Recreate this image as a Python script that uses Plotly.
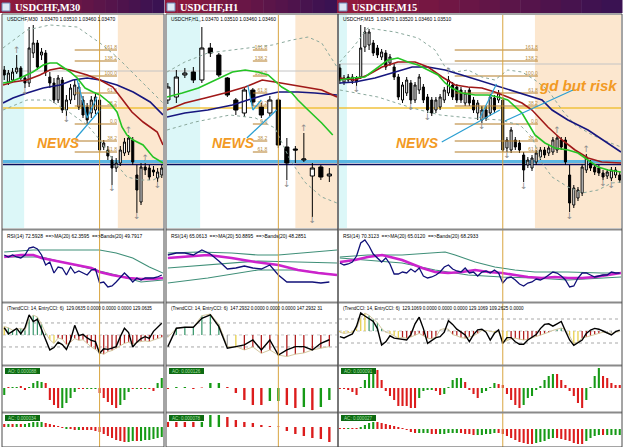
import plotly.graph_objects as go

W, H = 625, 447
REF, PIP = 1.0520, 0.0001   # main-window prices are stored as pips below REF
PT = 0.00001                # oscillator histogram values are stored in points

# ------------------------------------------------------------------ texts
TITLES = ["USDCHF,M30", "USDCHF,H1", "USDCHF,M15"]
INFO = ["USDCHF,M30  1.03470 1.03510 1.03460 1.03470",
        "USDCHF,H1,,1.03470 1.03510 1.03460 1.03460",
        "USDCHF,M15  1.03470 1.03520 1.03460 1.03510"]
RSI_TXT = ["RSI(14) 72.5928  ==>MA(20) 62.3595  ==>Bands(20) 49.7917",
           "RSI(14) 65.0613  ==>MA(20) 50.8895  ==>Bands(20) 48.2851",
           "RSI(14) 70.3123  ==>MA(20) 65.0120  ==>Bands(20) 68.2933"]
CCI_TXT = ["(TrendCCI: 14, EntryCCI: 6)  129.0635 0.0000 0.0000 0.0000 129.0635",
           "(TrendCCI: 14, EntryCCI: 6)  147.2932 0.0000 0.0000 0.0000 147.2932 31",
           "(TrendCCI: 14, EntryCCI: 6)  129.1069 0.0000 0.0000 0.0000 129.1069 109.2625 0.0000"]
AO_TXT = ["AO: 0.000088", "AO: 0.000126", "AO: 0.000091"]
AC_TXT = ["AC: 0.000034", "AC: 0.000078", "AC: 0.000027"]
FIB_LABELS = ["161.8", "138.2", "100.0", "61.8", "38.2", "0.0", "38.2", "61.8"]
FIB_PIPS = [50, 61, 76, 93, 106, 124, 141, 152]
LEVEL_GOLD = 108
LEVEL_GRAY = [71, 71, 64]
LEVEL_BLUE = 161.5
LEVEL_NAVY = 164.5

# ------------------------------------------------------------------ M30
M30_OPEN = [70,82,80,72,68,78,83,53,43,55,53,77,83,100,80,110,100,95,107,100,107,113,110,100,147,150,160,168,163,153,152,140,175,202,167,168,170,178,175]
M30_HIGH = [66,70,68,55,66,76,27,25,40,48,50,72,78,75,77,95,84,80,83,96,103,96,93,97,140,146,156,158,146,138,135,137,165,163,163,165,166,168,165]
M30_LOW = [80,85,82,74,80,88,87,58,70,60,76,88,103,103,113,116,104,100,110,118,124,118,114,152,150,160,185,172,166,156,155,165,213,205,175,180,176,182,178]
M30_CLOSE = [75,73,72,68,78,83,48,43,67,52,72,83,100,78,110,100,88,85,87,115,120,100,97,150,143,156,168,163,150,142,138,162,190,167,170,177,172,172,168]
M30_MA_GREEN_X = [-0.3,1.4,3.8,6.9,9.4,11,12.7,14.2,15.9,17.6,19.5,21.4,23.1,25.5,27.2,28.4,29.6,31.1,33.5,35.9,38.3]
M30_MA_GREEN = [83,82,78,72,65,63,63,67,72,78,88,92,95,103,112,127,135,140,145,157,163]
M30_MA_RED_X = [-0.3,2.1,5.5,8.6,11,13.5,15.9,20,23.1,26.2,28.6,30.8,33.5,36.9,38.3]
M30_MA_RED = [85,82,80,75,70,68,70,75,80,87,100,112,122,132,145]
M30_MA_NAVY_X = [-0.3,2.1,5.5,9.4,13.5,16.6,20,23.1,27.2,31.1,35.2,38.3]
M30_MA_NAVY = [103,98,93,88,85,80,78,80,85,92,102,115]
M30_BB_UP_X = [-0.3,5.5,11,17.6,23.1,27.2,29.6,32.8,35.9,38.3]
M30_BB_UP = [48,30,25,27,43,57,67,80,93,103]
M30_BB_LO_X = [-0.3,5.5,11,15.9,20,23.1,26.2,29.6,32.8,35.9,38.3]
M30_BB_LO = [110,100,100,113,125,140,160,177,180,180,175]
M30_FR_UP_X = [3, 30, 34]
M30_FR_UP = [51, 131, 159]
M30_FR_DN_X = [5, 15, 26, 32, 37]
M30_FR_DN = [92, 120, 189, 217, 186]
M30_ZIGZAG_X = [17.6, 20.0, 22.4]
M30_ZIGZAG = [80, 118, 97]
M30_POINTER_X = [17.3, 23.1]
M30_POINTER = [138, 110]
M30_RSI = [67,65,67,65,64,67,74,75,73,67,57,60,49,55,54,47,55,49,51,49,47,52,53,39,40,35,36,40,44,49,45,40,44,42,44,44,44,45,47]
M30_RSI_MA_X = [0,4,7,9,15,21,23,26,30,33,36,38.3]
M30_RSI_MA = [65,67,67,64,59,54,50,47,44,43,43,44]
M30_RSI_UP_X = [0,7,15,23,27,31,35,38.3]
M30_RSI_UP = [70,72,72,72,69,64,55,49]
M30_RSI_LO_X = [0,9,19,27,33,38.3]
M30_RSI_LO = [65,65,55,47,40,42]
M30_CCI_ENTRY = [60,10,30,55,10,60,167,111,130,40,-42,-125,-105,-60,-80,-120,-42,80,-5,5,-25,-45,-56,-153,-115,-120,-110,-97,-14,56,20,-100,-60,-30,-14,-28,30,60,97]
M30_CCI_TREND = [70,60,40,50,55,40,130,165,150,90,15,-40,-70,-25,-35,-80,-60,-30,-45,-40,-70,-100,-120,-150,-160,-140,-130,-110,-90,-70,-60,-80,-60,-55,-50,-55,-40,-30,-20]
M30_CCI_COL = "YGGGGGGGGGGYYRRRRRRRRRRRRRRRRRRRRRRRRRR"
M30_AO = [-7,1,1,1,2,-2,1,5,7,6,5,-12,-17,-20,-20,-15,-10,-4,-1,-1,-1,-1,-1,-5,-10,-14,-17,-20,-17,-12,-4,-1,-1,-1,-1,-1,-3,5,10]
M30_AO_COL = "GRGGRRGGGGRRRRGGGGRRGGGRRRRRGGGRGRGRRGG"
M30_AC = [3,3,3,3,3,3,4,5,5,5,4,3,2,1,-1,-2,-2,-3,-3,-3,-3,-3,-4,-5,-7,-9,-11,-13,-14,-15,-15,-14,-14,-14,-13,-13,-12,-11,-10]
M30_AC_COL = "RGRGRGGGGGRRRRRGRRGRRRRRRRRRRRGGRGGGGGG"

# ------------------------------------------------------------------ H1
H1_OPEN = [100,97,75,72,80,48,55,78,100,113,90,107,113,100,147,149,160,176,167,176]
H1_HIGH = [83,70,68,67,27,43,53,77,98,88,88,103,96,98,138,146,133,163,165,168]
H1_LOW = [104,103,78,83,83,57,77,97,115,117,106,118,116,148,180,163,162,217,180,182]
H1_CLOSE = [87,77,73,80,48,53,75,95,110,90,102,115,100,145,163,150,159,168,177,174]
H1_MA_GREEN_X = [-0.1,1.7,3.6,5.6,7.6,9.1,10.6,11.8,13.4,14.6,15.3,16.5,18.1,19.4]
H1_MA_GREEN = [97,93,88,80,72,70,72,75,87,93,100,110,123,135]
H1_MA_RED_X = [-0.1,2.0,4.4,6.7,9.1,11.1,12.6,14.6,16.5,18.1,19.9]
H1_MA_RED = [110,103,98,93,87,80,82,85,88,90,97]
H1_MA_NAVY_X = [-0.1,2.0,4.7,7.6,9.4,11.4,13.0,15.3,17.3,19.9]
H1_MA_NAVY = [117,113,110,105,100,95,92,92,93,95]
H1_BB_UP_X = [-0.1,2.0,4.7,7.6,9.9,12.3,14.6,16.5,18.1,19.9]
H1_BB_UP = [72,62,53,50,47,45,40,37,43,67]
H1_BB_LO_X = [-0.1,3.2,7.3,10.3,12.6,14.4,16.1,18.1,19.9]
H1_BB_LO = [130,122,115,118,128,160,182,197,203]
H1_FR_UP_X = [16]
H1_FR_UP = [129]
H1_FR_DN_X = [14, 17]
H1_FR_DN = [185, 221]
H1_ZIGZAG_X = [9.4, 10.0, 11.0]
H1_ZIGZAG = [85, 110, 100]
H1_POINTER_X = [9.3, 12.8]
H1_POINTER = [138, 110]
H1_RSI = [67,69,69,67,72,68,61,53,54,56,54,53,57,47,40,40,40,40,39,40]
H1_RSI_MA_X = [0,2,4.7,7.5,10.3,13,15.3,17.7,19.9]
H1_RSI_MA = [64,65,67,64,60,57,52,49,47]
H1_RSI_UP_X = [0,3.6,7.5,10.6,13,16.1,19.9]
H1_RSI_UP = [69,70,69,67,67,69,72]
H1_RSI_MID_X = [0,4.7,10.6,15.3,19.9]
H1_RSI_MID = [54,57,61,60,59]
H1_RSI_LO_X = [0,4.7,10.6,15.3,19.9]
H1_RSI_LO = [39,44,52,52,47]
H1_CCI_ENTRY = [-97,56,64,64,139,167,69,-111,-97,-83,-42,-125,-42,-167,-125,-97,-97,-125,-69,-40]
H1_CCI_TREND = [-20,56,64,64,160,175,90,-97,-97,-125,-100,-153,-125,-167,-180,-160,-150,-125,-110,-97]
H1_CCI_COL = "NGGGGGGNYRRRRRRRRRRR"
H1_AO = [-1,1,1,-1,0.5,5,5,1,-5,-12,-17,-17,-13,-13,-17,-20,-19,-22,-19,-12]
H1_AO_COL = "RGGRRGGRRRRRGGRRGRGG"
H1_AC = [5,5,5,5,5,12,12,10,7,5,4,2,1,0.5,-4,-7,-9,-11,-12,-15]
H1_AC_COL = "RRRRGGGRRRRRRRRRRRRR"

# ------------------------------------------------------------------ M15
M15_OPEN = [68,82,77,81,78,77,47,45,43,48,57,53,63,67,77,100,93,83,100,90,87,97,100,110,107,100,93,85,87,90,103,90,100,113,120,110,113,98,100,100,148,150,140,143,155,165,168,162,157,150,153,152,150,140,140,175,205,198,193,170,163,167,168,173,176,178,175,175]
M15_HIGH = [64,75,74,74,76,25,27,29,40,45,49,50,54,64,74,82,77,80,82,74,84,94,97,97,94,87,76,82,84,87,90,87,97,100,106,106,94,95,90,97,137,127,137,140,152,157,155,150,147,147,145,137,135,137,137,165,185,187,164,154,160,164,165,170,169,167,167,172]
M15_LOW = [84,85,83,84,86,79,52,50,56,58,60,70,66,80,100,103,96,104,103,94,103,113,116,113,110,103,96,100,103,103,106,106,113,120,123,121,116,113,103,152,152,153,150,153,182,168,171,165,160,158,156,155,153,150,165,212,208,201,196,173,171,175,176,180,179,181,178,183]
M15_CLOSE = [80,78,80,77,82,48,32,32,53,55,52,67,57,77,97,85,80,100,85,77,100,110,113,100,97,90,80,97,100,100,93,103,110,103,110,118,97,110,93,150,140,130,147,150,170,160,158,153,150,155,148,140,138,147,162,203,188,190,167,157,168,172,173,177,172,170,170,180]
M15_MA_GREEN_X = [0,2.9,6.0,9.1,11.5,13.9,16.3,18.7,21.1,23.5,25.2,26.8,29.2,32.4,35.5,37.9,40.2,43.6,46.7,49.1,51.5,54.6,57.0,59.4,61.8,64.2,67.3]
M15_MA_GREEN = [80,78,77,67,60,58,62,65,70,75,83,88,93,95,95,97,100,113,135,143,148,150,153,160,167,170,172]
M15_MA_RED_X = [0,3.6,6.7,10.1,13.9,18.0,21.1,24.5,27.6,30.7,34.0,37.1,40.2,43.6,46.0,49.8,53.2,56.3,59.4,62.7,67.3]
M15_MA_RED = [78,80,75,67,62,62,67,77,85,87,88,92,97,103,110,127,140,150,158,162,163]
M15_MA_NAVY_X = [0,3.6,8.4,13.2,17.3,21.1,25.2,29.2,33.1,37.1,41.2,45.0,48.4,50.8,54.6,59.4,64.2,67.3]
M15_MA_NAVY = [83,82,78,72,67,67,70,75,80,85,90,95,100,110,120,130,143,152]
M15_BB_UP_X = [0,3.6,6.7,13.2,18.7,22.8,25.2,27.6,30.7,34.0,37.1,40.2,43.6,46.7,49.8,53.2,56.3,60.4,64.2,67.3]
M15_BB_UP = [62,45,28,32,38,50,67,72,70,77,80,70,72,80,90,110,125,135,142,147]
M15_BB_LO_X = [0,9.1,17.3,24.0,31.2,38.3,43.1,46.0,48.4,50.8,54.6,58.0,61.8,65.1,67.3]
M15_BB_LO = [90,97,108,115,118,120,125,137,163,177,187,193,190,183,182]
M15_FR_UP_X = [26, 52, 59]
M15_FR_UP = [72, 131, 150]
M15_FR_DN_X = [4, 17, 21, 34, 40, 44, 55, 63, 65]
M15_FR_DN = [90, 108, 118, 127, 156, 187, 217, 184, 186]
M15_ZIGZAG_X = [33.5, 37.5]
M15_ZIGZAG = [118, 84]
M15_POINTER_X = [24.4, 38.3]
M15_POINTER = [142, 110]
M15_POINTER2_X = [39.5, 55.8]
M15_POINTER2 = [121, 90]
M15_RSI = [59,57,58,60,66,79,82,76,68,64,60,64,58,48,48,50,49,53,50,54,46,44,45,47,50,55,57,53,51,50,54,49,50,46,50,51,49,52,49,39,44,45,42,38,36,39,40,43,42,44,47,50,49,46,42,35,36,44,49,49,47,45,46,47,47,50,49,49]
M15_RSI_MA_X = [0,3.6,6.7,10.1,14.9,19.7,22.8,25.9,29.2,32.4,35.5,38.8,41.9,45,48.4,51.5,54.6,58,61.1,64.2,67.3]
M15_RSI_MA = [60,62,65,67,62,54,50,49,50,52,50,49,47,45,44,45,44,44,45,47,49]
M15_RSI_UP_X = [0,6.7,14.9,22.8,25.2,27.6,32.4,37.1,41.9,46.7,54.6,62.7,67.3]
M15_RSI_UP = [65,67,67,69,70,67,60,55,52,50,50,49,49]
M15_RSI_LO_X = [0,6.7,14.9,22.8,30.7,38.8,46.7,54.6,62.7,67.3]
M15_RSI_LO = [64,62,59,52,47,45,44,42,44,45]
M15_CCI_ENTRY = [-47,-58,-40,-25,40,150,125,100,80,20,-117,-90,-40,-60,-65,-75,-75,-30,60,115,20,-103,-80,-55,-47,-10,85,55,15,-6,-33,-89,-30,10,15,-10,-75,-19,8,-103,-55,-55,-90,-110,-110,-75,-55,-30,20,55,60,40,60,80,0,-75,-120,-100,-75,-20,8,22,15,0,-19,-33,-6,8]
M15_CCI_TREND = [-10,-20,-15,-10,20,110,150,130,100,70,20,-10,-20,-40,-60,-55,-60,-50,-35,-20,-40,-60,-65,-50,10,20,15,-30,-40,-55,-60,-50,-40,-20,5,5,-5,-10,-5,-100,-80,-65,-60,-70,-75,-70,-55,-45,-35,-25,-10,5,15,25,10,-40,-110,-90,-60,-50,-40,-30,-20,-10,-15,-20,-10,-5]
M15_CCI_COL = "YYYYYYYGGGGNYYYRRRRRRRRRNNNRRRRRRRYYYYYYYRRRRRRRRRRNGGNYYYRRRRRNNNNN"
M15_AO = [-1,-1,-2,-4,-7,1,8,18,18,18,8,-3,-8,-12,-18,-18,-18,-20,-20,-10,-3,-2,-2,-3,-7,-6,1,8,10,10,6,-2,-6,-10,-5,-3,1,5,4,3,-6,-12,-17,-20,-17,-10,-8,-2,2,8,12,14,14,8,3,-3,-8,-15,-20,-12,1,12,20,12,10,5,3,3]
M15_AO_COL = "RRRRRGGGGRRRRRRRRRRGGGGRRGGGGGRRRRGGGGRRRRRRGGGGGGGGRRRRRRRGGGGRRRRR"
M15_AC = [1,1,1,1,1,2,4,6,7,7,6,5,4,3,2,1,-1,-3,-4,-4,-4,-4,-5,-5,-5,-5,-4,-4,-4,-4,-5,-5,-6,-6,-6,-5,-5,-4,-4,-5,-7,-9,-11,-13,-14,-15,-15,-14,-13,-12,-10,-9,-9,-10,-11,-12,-14,-15,-15,-12,-9,-7,-6,-6,-6,-6,-6,-6]
M15_AC_COL = "RRGRRGGGGRRRRRRRRRRGGGRRGGGGGRRRRGGGGGRRRRRRRRRGGGGGRRRRRRRGGGGRGGGG"

# session shading / news bar (bar index units)
CYAN_SPAN = [(-0.3, 4.8), (-0.1, 3.8), (-0.2, 1.7)]
PEACH_SPAN = [(27.4, 38.3), (15.0, 19.9), (46.7, 67.3)]
NEWS_BAR = [23, 13, 39]
FIB_SPAN = [(17.0, 27.2), (10.0, 11.7), (27.5, 47.4)]
NEWS_POS = [(13.0, 143), (7.7, 143), (18.5, 143)]
GD_POS = (57.0, 86)

# ------------------------------------------------------------------ styles
BB = dict(color="#8aa89c", width=1, dash="dot")
GREEN = dict(color="#24c424", width=1.6)
DRED = dict(color="#a01818", width=1.6)
NAVY = dict(color="#16167e", width=1.6)
RSI_BAND = dict(color="#3f8f78", width=1.1)
AO_COL = {"G": "#169a16", "R": "#dc1c1c"}
CCI_COL = {"G": "#3f9a70", "R": "#b01c1c", "Y": "#e6cf48", "N": "#a8a8a8"}
CYAN = "#dcf7f8"
PEACH = "#fce7cf"
ORANGE = "#f29a24"
POINT_BLUE = "#2b9fd2"
NEWS_LINE = "#d9a540"


def price(p):
    return REF - p * PIP


CFG = [
    dict(xr=(-0.3, 38.3), O=M30_OPEN, Hi=M30_HIGH, Lo=M30_LOW, C=M30_CLOSE,
         lines=[(M30_BB_UP_X, M30_BB_UP, BB), (M30_BB_LO_X, M30_BB_LO, BB),
                (M30_MA_NAVY_X, M30_MA_NAVY, NAVY), (M30_MA_RED_X, M30_MA_RED, DRED),
                (M30_MA_GREEN_X, M30_MA_GREEN, GREEN)],
         fr_up=(M30_FR_UP_X, M30_FR_UP), fr_dn=(M30_FR_DN_X, M30_FR_DN),
         blue=[(M30_ZIGZAG_X, M30_ZIGZAG), (M30_POINTER_X, M30_POINTER)],
         rsi=M30_RSI, rsi_ma=(M30_RSI_MA_X, M30_RSI_MA),
         rsi_bands=[(M30_RSI_UP_X, M30_RSI_UP), (M30_RSI_LO_X, M30_RSI_LO)],
         cci_e=M30_CCI_ENTRY, cci_t=M30_CCI_TREND, cci_c=M30_CCI_COL, cci_r=(-242, 258), cci_w=0.3,
         ao=M30_AO, ao_c=M30_AO_COL, ac=M30_AC, ac_c=M30_AC_COL, ac_r=(-18, 13), bw=0.5),
    dict(xr=(-0.1, 19.9), O=H1_OPEN, Hi=H1_HIGH, Lo=H1_LOW, C=H1_CLOSE,
         lines=[(H1_BB_UP_X, H1_BB_UP, BB), (H1_BB_LO_X, H1_BB_LO, BB),
                (H1_MA_NAVY_X, H1_MA_NAVY, NAVY), (H1_MA_RED_X, H1_MA_RED, DRED),
                (H1_MA_GREEN_X, H1_MA_GREEN, GREEN)],
         fr_up=(H1_FR_UP_X, H1_FR_UP), fr_dn=(H1_FR_DN_X, H1_FR_DN),
         blue=[(H1_ZIGZAG_X, H1_ZIGZAG), (H1_POINTER_X, H1_POINTER)],
         rsi=H1_RSI, rsi_ma=(H1_RSI_MA_X, H1_RSI_MA),
         rsi_bands=[(H1_RSI_UP_X, H1_RSI_UP), (H1_RSI_MID_X, H1_RSI_MID), (H1_RSI_LO_X, H1_RSI_LO)],
         cci_e=H1_CCI_ENTRY, cci_t=H1_CCI_TREND, cci_c=H1_CCI_COL, cci_r=(-242, 258), cci_w=0.15,
         ao=H1_AO, ao_c=H1_AO_COL, ac=H1_AC, ac_c=H1_AC_COL, ac_r=(-18, 13), bw=0.28),
    dict(xr=(-0.2, 67.3), O=M15_OPEN, Hi=M15_HIGH, Lo=M15_LOW, C=M15_CLOSE,
         lines=[(M15_BB_UP_X, M15_BB_UP, BB), (M15_BB_LO_X, M15_BB_LO, BB),
                (M15_MA_NAVY_X, M15_MA_NAVY, NAVY), (M15_MA_RED_X, M15_MA_RED, DRED),
                (M15_MA_GREEN_X, M15_MA_GREEN, GREEN)],
         fr_up=(M15_FR_UP_X, M15_FR_UP), fr_dn=(M15_FR_DN_X, M15_FR_DN),
         blue=[(M15_ZIGZAG_X, M15_ZIGZAG), (M15_POINTER_X, M15_POINTER), (M15_POINTER2_X, M15_POINTER2)],
         rsi=M15_RSI, rsi_ma=(M15_RSI_MA_X, M15_RSI_MA),
         rsi_bands=[(M15_RSI_UP_X, M15_RSI_UP), (M15_RSI_LO_X, M15_RSI_LO)],
         cci_e=M15_CCI_ENTRY, cci_t=M15_CCI_TREND, cci_c=M15_CCI_COL, cci_r=(-275, 225), cci_w=0.3,
         ao=M15_AO, ao_c=M15_AO_COL, ac=M15_AC, ac_c=M15_AC_COL, ac_r=(-16, 15), bw=0.5),
]

PANEL_PX = [(3, 163), (167, 337), (339, 621)]
FRAME_PX = [(2, 164), (166, 338), (338, 622)]
TITLE_PX = [(0, 164), (165, 337), (337, 622)]
WIN_PX = [(15, 228), (231, 301), (304, 364), (367, 411), (414, 445)]
SEP_Y = [229.5, 302.5, 365.5, 412.5]
SMALL = dict(family="Liberation Sans, Arial, sans-serif", size=4.9, color="black")

fig = go.Figure()
shapes, annots = [], []
layout = dict(width=W, height=H, margin=dict(l=0, r=0, t=0, b=0),
              paper_bgcolor="white", plot_bgcolor="rgba(0,0,0,0)",
              showlegend=False, hovermode=False)


def names(n):
    s = "" if n == 1 else str(n)
    return "x" + s, "y" + s, "xaxis" + s, "yaxis" + s


def add(tr):
    fig.add_trace(tr)


def pannot(text, xpx, ypx, font, xanchor="left"):
    annots.append(dict(text=text, x=xpx / W, y=1 - ypx / H, xref="paper", yref="paper",
                       showarrow=False, xanchor=xanchor, yanchor="middle", font=font))


for p, cfg in enumerate(CFG):
    x0p, x1p = PANEL_PX[p]
    yr = [[price(228), price(15)], [21, 91], list(cfg["cci_r"]),
          [-23 * PT, 21 * PT], [cfg["ac_r"][0] * PT, cfg["ac_r"][1] * PT]]
    ax = []
    for w in range(5):
        n = p * 5 + w + 1
        xa, ya, xk, yk = names(n)
        t, b = WIN_PX[w]
        layout[xk] = dict(domain=[x0p / W, x1p / W], range=list(cfg["xr"]), visible=False,
                          fixedrange=True, anchor=ya, rangeslider=dict(visible=False))
        layout[yk] = dict(domain=[1 - b / H, 1 - t / H], range=yr[w], visible=False,
                          fixedrange=True, anchor=xa)
        ax.append((xa, ya))

    # ---------------- main window
    xa, ya = ax[0]
    for span, col in ((CYAN_SPAN[p], CYAN), (PEACH_SPAN[p], PEACH)):
        shapes.append(dict(type="rect", xref=xa, yref=ya + " domain", x0=span[0], x1=span[1],
                           y0=0, y1=1, fillcolor=col, line_width=0, layer="below"))
    for lv, col, wd in ((LEVEL_GRAY[p], "#c4c4c4", 1), (LEVEL_GOLD, "#f0c23c", 1.6),
                        (LEVEL_BLUE, "#5ab6e2", 3), (LEVEL_NAVY, "#0c0c5a", 1.4)):
        shapes.append(dict(type="line", xref=xa + " domain", yref=ya, x0=0, x1=1,
                           y0=price(lv), y1=price(lv), line=dict(color=col, width=wd), layer="below"))
    fx0, fx1 = FIB_SPAN[p]
    for lab, lv in zip(FIB_LABELS, FIB_PIPS):
        add(go.Scatter(x=[fx0, fx1], y=[price(lv), price(lv)], mode="lines",
                       line=dict(color="#b47c26", width=1), xaxis=xa, yaxis=ya, hoverinfo="skip"))
    add(go.Scatter(x=[fx1] * len(FIB_PIPS), y=[price(v) for v in FIB_PIPS], mode="text",
                   text=FIB_LABELS, textposition="top left",
                   textfont=dict(family="Liberation Sans, Arial", size=5, color="#b88c40"),
                   xaxis=xa, yaxis=ya, hoverinfo="skip"))
    for xs, vs, st in cfg["lines"]:
        add(go.Scatter(x=xs, y=[price(v) for v in vs], mode="lines", line=st,
                       xaxis=xa, yaxis=ya, hoverinfo="skip"))
    for xs, vs in cfg["blue"]:
        add(go.Scatter(x=xs, y=[price(v) for v in vs], mode="lines",
                       line=dict(color=POINT_BLUE, width=1.2), xaxis=xa, yaxis=ya, hoverinfo="skip"))
    idx = list(range(len(cfg["O"])))
    add(go.Candlestick(x=idx, open=[price(v) for v in cfg["O"]], high=[price(v) for v in cfg["Hi"]],
                       low=[price(v) for v in cfg["Lo"]], close=[price(v) for v in cfg["C"]],
                       increasing=dict(line=dict(color="black", width=1), fillcolor="white"),
                       decreasing=dict(line=dict(color="black", width=1), fillcolor="black"),
                       whiskerwidth=0, xaxis=xa, yaxis=ya, hoverinfo="skip"))
    for (xs, vs), ch in ((cfg["fr_up"], "↑"), (cfg["fr_dn"], "↓")):
        add(go.Scatter(x=xs, y=[price(v) for v in vs], mode="text", text=[ch] * len(xs),
                       textfont=dict(family="DejaVu Sans", size=9, color="#8c8c8c"),
                       xaxis=xa, yaxis=ya, hoverinfo="skip"))
    nx, ny = NEWS_POS[p]
    annots.append(dict(text="<b><i>NEWS</i></b>", x=nx, y=price(ny), xref=xa, yref=ya,
                       showarrow=False, font=dict(family="Liberation Sans, Arial", size=14, color=ORANGE)))
    if p == 2:
        annots.append(dict(text="<b><i>gd but risk</i></b>", x=GD_POS[0], y=price(GD_POS[1]),
                           xref=xa, yref=ya, showarrow=False,
                           font=dict(family="Liberation Sans, Arial", size=15, color=ORANGE)))
    # news vertical line through every window
    shapes.append(dict(type="line", xref=xa, yref="paper", x0=NEWS_BAR[p], x1=NEWS_BAR[p],
                       y0=0, y1=1 - 15 / H, line=dict(color=NEWS_LINE, width=1)))

    # ---------------- RSI window
    xa, ya = ax[1]
    for xs, vs in cfg["rsi_bands"]:
        add(go.Scatter(x=xs, y=vs, mode="lines", line=RSI_BAND, xaxis=xa, yaxis=ya, hoverinfo="skip"))
    add(go.Scatter(x=cfg["rsi_ma"][0], y=cfg["rsi_ma"][1], mode="lines",
                   line=dict(color="#cc22cc", width=2.6), xaxis=xa, yaxis=ya, hoverinfo="skip"))
    add(go.Scatter(x=idx, y=cfg["rsi"], mode="lines", line=dict(color="#101078", width=1.3),
                   xaxis=xa, yaxis=ya, hoverinfo="skip"))

    # ---------------- CCI window
    xa, ya = ax[2]
    for lv, col in ((100, "#a8a8a8"), (0, "#c8c8c8"), (-100, "#a8a8a8")):
        shapes.append(dict(type="line", xref=xa + " domain", yref=ya, x0=0, x1=1, y0=lv, y1=lv,
                           line=dict(color=col, width=1, dash="dot"), layer="below"))
    add(go.Bar(x=idx, y=cfg["cci_t"], marker=dict(color=[CCI_COL[c] for c in cfg["cci_c"]], line_width=0),
               width=cfg["cci_w"], xaxis=xa, yaxis=ya, hoverinfo="skip"))
    add(go.Scatter(x=idx, y=cfg["cci_t"], mode="lines", line=dict(color="#d4c8a0", width=1),
                   xaxis=xa, yaxis=ya, hoverinfo="skip"))
    add(go.Scatter(x=idx, y=cfg["cci_e"], mode="lines", line=dict(color="black", width=1.4),
                   xaxis=xa, yaxis=ya, hoverinfo="skip"))

    # ---------------- AO / AC windows
    for w, vals, cols in ((3, cfg["ao"], cfg["ao_c"]), (4, cfg["ac"], cfg["ac_c"])):
        xa, ya = ax[w]
        add(go.Bar(x=idx, y=[v * PT for v in vals], marker=dict(color=[AO_COL[c] for c in cols], line_width=0),
                   width=cfg["bw"], xaxis=xa, yaxis=ya, hoverinfo="skip"))

    # ---------------- frame, separators, labels
    fx0p, fx1p = FRAME_PX[p]
    for sy in SEP_Y:
        shapes.append(dict(type="line", xref="paper", yref="paper", x0=fx0p / W, x1=fx1p / W,
                           y0=1 - sy / H, y1=1 - sy / H, line=dict(color="#8a8a8a", width=2.2)))
    shapes.append(dict(type="rect", xref="paper", yref="paper", x0=fx0p / W, x1=fx1p / W,
                       y0=0, y1=1 - 14 / H, line=dict(color="#4a4a4a", width=1), fillcolor="rgba(0,0,0,0)"))
    pannot(INFO[p], x0p + 2, 19.5, SMALL)
    pannot(RSI_TXT[p], x0p + 2, 236, SMALL)
    pannot(CCI_TXT[p], x0p + 2, 308.5, dict(SMALL, size=4.6))
    for (by, txt) in ((371, AO_TXT[p]), (418, AC_TXT[p])):
        shapes.append(dict(type="rect", xref="paper", yref="paper", x0=(x0p + 2) / W, x1=(x0p + 37) / W,
                           y0=1 - (by + 3) / H, y1=1 - (by - 3) / H, fillcolor="#0d6a12", line_width=0))
        pannot(txt, x0p + 3, by, dict(family="Liberation Sans, Arial", size=4.6, color="#a6e0a6"))

    # ---------------- title bar (gradient)
    t0, t1 = TITLE_PX[p]
    steps = 14
    c0, c1 = (146, 26, 60), (58, 18, 82)
    for k in range(steps):
        f = k / (steps - 1)
        col = "rgb(%d,%d,%d)" % tuple(int(c0[i] + (c1[i] - c0[i]) * f) for i in range(3))
        shapes.append(dict(type="rect", xref="paper", yref="paper",
                           x0=(t0 + (t1 - t0) * k / steps) / W, x1=(t0 + (t1 - t0) * (k + 1) / steps + 0.5) / W,
                           y0=1 - 13 / H, y1=1, fillcolor=col, line_width=0))
    shapes.append(dict(type="rect", xref="paper", yref="paper", x0=(t0 + 2) / W, x1=(t0 + 10) / W,
                       y0=1 - 11 / H, y1=1 - 3 / H, fillcolor="#dfe8f4", line=dict(color="#6a8ab8", width=1)))
    pannot("<b>" + TITLES[p] + "</b>", t0 + 13, 7, dict(family="Liberation Serif, Times New Roman, serif",
                                                         size=10.5, color="white"))

layout["shapes"] = shapes
layout["annotations"] = annots
fig.update_layout(**layout)
fig.write_html("out.html", config=dict(displayModeBar=False, staticPlot=True))
